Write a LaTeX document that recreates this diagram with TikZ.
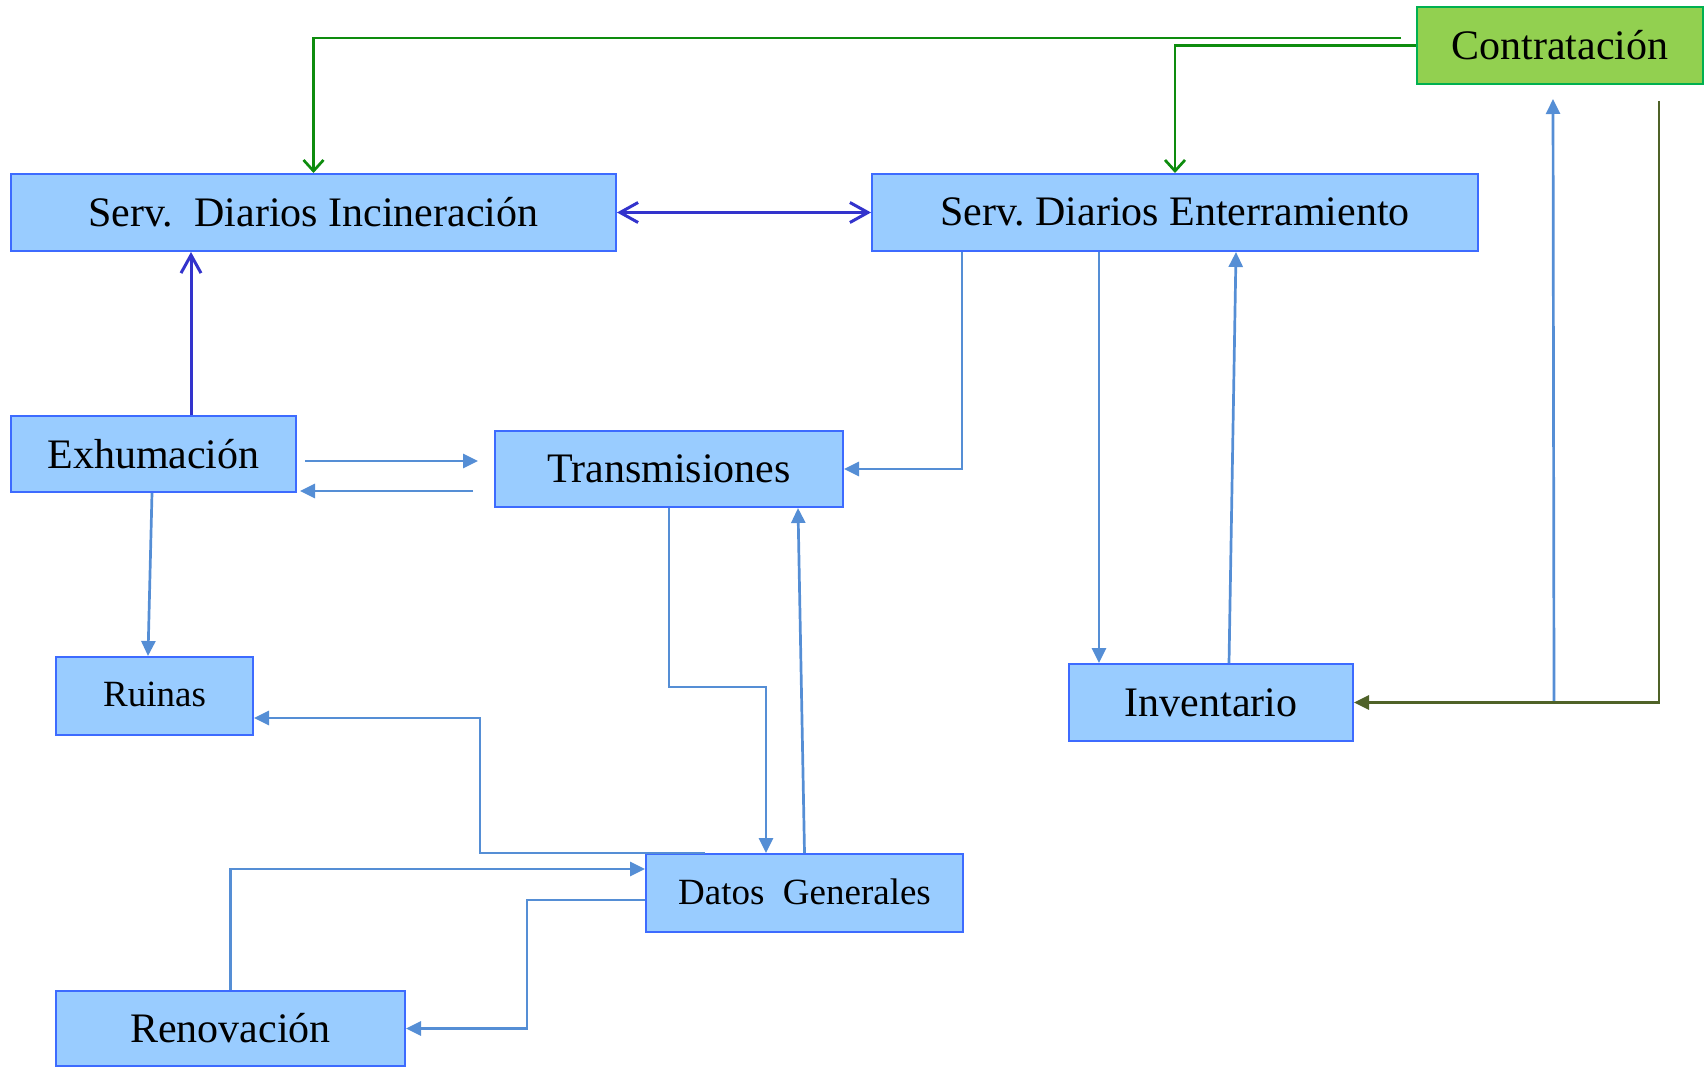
\documentclass[tikz,border=0pt]{standalone}
\usepackage{fontspec}
\setmainfont{Liberation Serif}
\usetikzlibrary{arrows.meta,calc}
\definecolor{boxfill}{HTML}{99CCFF}
\definecolor{boxdraw}{HTML}{3D6BFF}
\definecolor{confill}{HTML}{92D050}
\definecolor{condraw}{HTML}{00B050}
\definecolor{grn}{HTML}{0E8C0E}
\definecolor{dblue}{HTML}{3333CC}
\definecolor{lblue}{HTML}{558ED5}
\definecolor{olv}{HTML}{4F6228}
\frenchspacing
\begin{document}
\begin{tikzpicture}[x=1pt,y=-1pt,
  box/.style={draw=boxdraw, fill=boxfill, line width=2pt, inner sep=0pt,
    font=\fontsize{42}{48}\selectfont},
  sbox/.style={box, font=\fontsize{37}{44}\selectfont},
  cbox/.style={box, draw=condraw, fill=confill},
  lb/.style={draw=lblue, line width=2.7pt, -{Triangle[length=15pt,width=14pt]}},
  gr/.style={draw=grn, line width=2.7pt, -{Straight Barb[length=11pt,width=20pt]}},
  db/.style={draw=dblue, line width=3pt},
  ol/.style={draw=olv, line width=2.7pt, -{Triangle[length=15pt,width=14pt]}}
]
\useasboundingbox (0,0) rectangle (1704,1067);

% nodes
\node[cbox, minimum width=286pt, minimum height=77pt] (con) at (1560,45.5) {Contratación};
\node[box, minimum width=605pt, minimum height=77pt] (inc) at (313.5,212.5) {\raisebox{1pt}{Serv.\ \ Diarios Incineración}};
\node[box, minimum width=606pt, minimum height=77pt] (ent) at (1175,212.5) {\raisebox{1pt}{Serv. Diarios Enterramiento}};
\node[box, minimum width=285pt, minimum height=76pt] (exh) at (153.5,454) {\raisebox{1pt}{Exhumación}};
\node[box, minimum width=348pt, minimum height=76pt] (tra) at (669,469) {Transmisiones};
\node[sbox, minimum width=197pt, minimum height=78pt] (rui) at (154.5,696) {\raisebox{3pt}{Ruinas}};
\node[box, minimum width=284pt, minimum height=77pt] (inv) at (1211,702.5) {Inventario};
\node[sbox, minimum width=317pt, minimum height=78pt] (dat) at (804.5,893) {\raisebox{3pt}{Datos\ \ Generales}};
\node[box, minimum width=349pt, minimum height=75pt] (ren) at (230.5,1028.5) {Renovación};

% helper coordinates
\coordinate (g1) at ($(con.west)+(-15,-7.5)$);
\coordinate (e1) at ($(ent.south west)+(91,0)$);
\coordinate (e2) at ($(ent.south west)+(228,0)$);
\coordinate (b1) at ($(inv.east)+(200,0)$);
\coordinate (b2) at ($(con.south)+(-7,14)$);
\coordinate (o1) at ($(con.south)+(99,16)$);
\coordinate (x1) at ($(exh.north west)+(181,0)$);
\coordinate (t1) at ($(tra.south)+(0,179)$);
\coordinate (d1) at ($(dat.north)+(-38.5,0)$);
\coordinate (d2) at ($(dat.north west)+(60,0)$);
\coordinate (r1) at ($(rui.east)+(0,22)$);
\coordinate (r2) at ($(r1)+(226,0)$);
\coordinate (q1) at ($(dat.west)+(0,7)$);
\coordinate (q2) at ($(ren.east)+(121,0)$);

% green connectors
\draw[gr] (g1) -| (inc.north);
\draw[gr] (con.west) -| (ent.north);

% dark blue connectors
\draw[db, {Straight Barb[length=18pt,width=20pt]}-{Straight Barb[length=18pt,width=20pt]}] (inc.east) -- (ent.west);
\draw[db, -{Straight Barb[length=18pt,width=20pt]}] (x1) -- (x1 |- inc.south);

% light blue connectors
\draw[lb] ($(exh.east)+(8,7)$) -- ($(tra.west)+(-16,-8)$);
\draw[lb] ($(tra.west)+(-21,22)$) -- ($(exh.east)+(3,37)$);
\draw[lb] ($(exh.south)+(-1.5,0)$) -- ($(rui.north)+(-6.5,0)$);
\draw[lb] (e1) |- (tra.east);
\draw[lb] (e2) -- (e2 |- inv.north);
\draw[lb] ($(inv.north)+(18,0)$) -- ($(ent.south)+(61,0)$);
\draw[lb] (b1) -- (b2);
\draw[lb] (tra.south) -- (t1) -| (d1);
\draw[lb] (dat.north) -- ($(tra.south)+(129,0)$);
\draw[lb] (d2) -| (r2) -- (r1);
\draw[lb] (ren.north) |- ($(dat.west)+(0,-24)$);
\draw[lb] (q1) -| (q2) -- (ren.east);

% olive connector
\draw[ol] (o1) |- (inv.east);
\end{tikzpicture}
\end{document}
